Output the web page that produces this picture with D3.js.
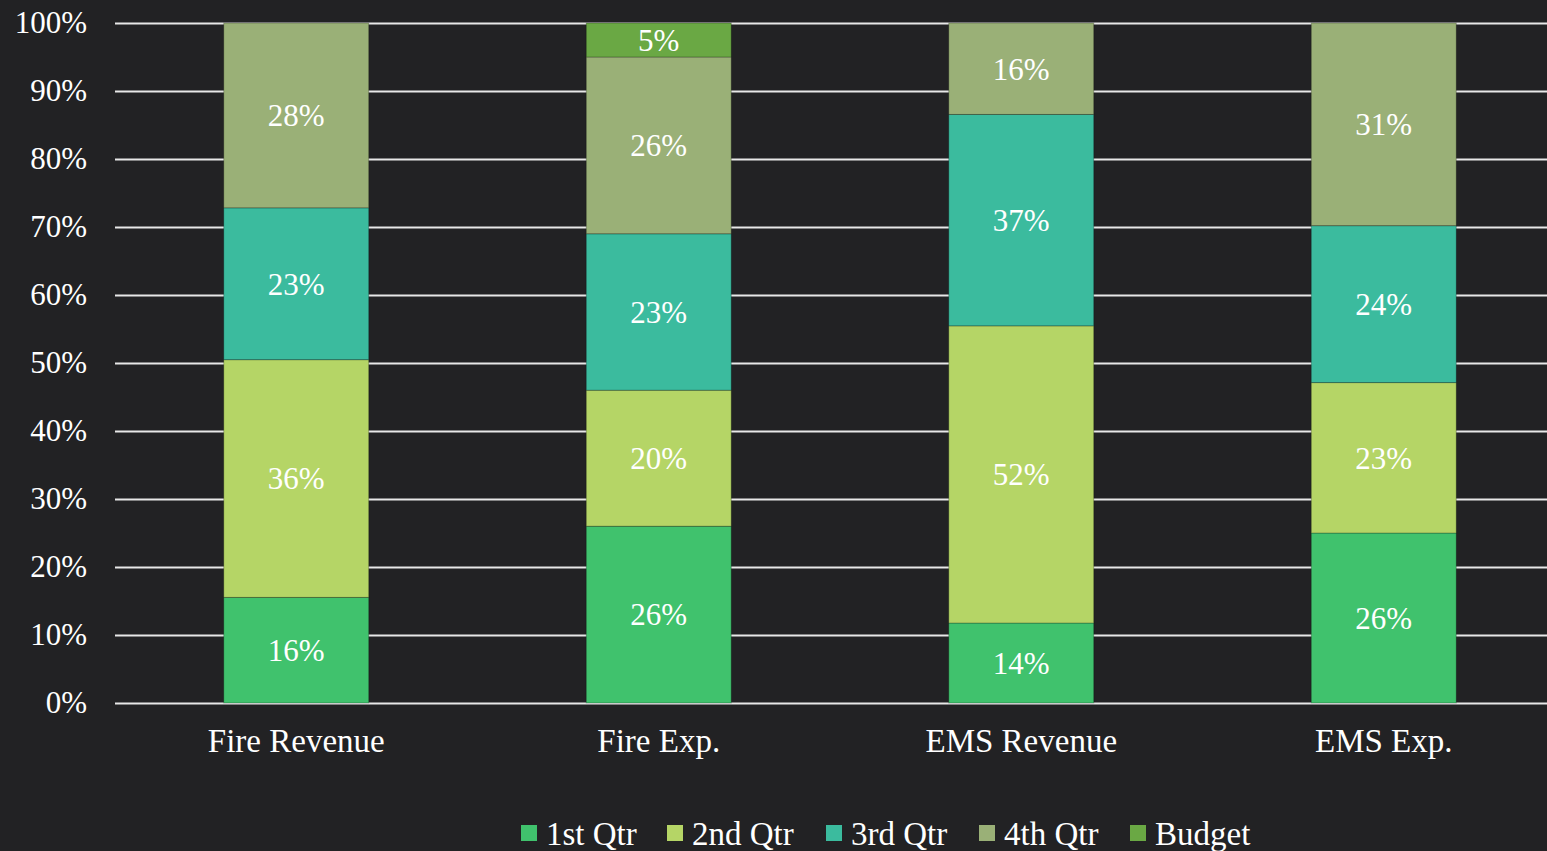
<!DOCTYPE html>
<html><head><meta charset="utf-8">
<script src="https://cdn.jsdelivr.net/npm/d3@7"></script>
<style>
html,body{margin:0;padding:0;background:#222224;overflow:hidden;}
svg text{font-family:"Liberation Serif","DejaVu Serif",serif !important;fill:#ffffff;}
</style></head>
<body>
<svg id="c" width="1547" height="851"></svg>
<script>
const categories = ["Fire Revenue","Fire Exp.","EMS Revenue","EMS Exp."];
const seriesNames = ["1st Qtr","2nd Qtr","3rd Qtr","4th Qtr","Budget"];
const q1 = [16,26,14,26];
const q2 = [36,20,52,23];
const q3 = [23,23,37,24];
const q4 = [28,26,16,31];
const budget = [0,5,0,0];
const colors = ["#40c26d","#b5d566","#3bbb9e","#9ab077","#6aa844"];
const yTicks = [0,0.1,0.2,0.3,0.4,0.5,0.6,0.7,0.8,0.9,1];

const svg = d3.select("#c");
const W=1547,H=851;
svg.append("rect").attr("width",W).attr("height",H).attr("fill","#222224");
const pLeft=115, pRight=1565, pTop=23, pBottom=703;
const x = d3.scaleBand().domain(categories).range([pLeft,pRight]).paddingInner(0.6).paddingOuter(0.3);
const y = d3.scaleLinear().domain([0,1]).range([pBottom,pTop]);

const seriesVals=[q1,q2,q3,q4,budget];
const rows = categories.map((c,i)=>{
  const r={cat:c};
  seriesNames.forEach((s,j)=>r[s]=seriesVals[j][i]);
  return r;
});
const stack = d3.stack().keys(seriesNames).offset(d3.stackOffsetExpand);
const stacked = stack(rows);

// gridlines
const yAxis = d3.axisLeft(y).tickValues(yTicks).tickFormat(d3.format(".0%")).tickSize(-(W-pLeft)).tickPadding(28);
const ga = svg.append("g").attr("transform",`translate(${pLeft},0)`).call(yAxis);
ga.attr("font-family",null);
ga.select(".domain").remove();
ga.selectAll(".tick line").attr("stroke","#e8e8e8").attr("stroke-width",2);
ga.selectAll(".tick text").attr("font-size",31).attr("fill","#fff").attr("x",-28).attr("dy","0.32em");

// bars
const gs = svg.append("g").selectAll("g").data(stacked).join("g").attr("fill",(d,i)=>colors[i]);
gs.selectAll("rect").data(d=>d.map(v=>({v,key:d.key}))).join("rect")
  .attr("x",d=>x(d.v.data.cat))
  .attr("width",x.bandwidth())
  .attr("y",d=>y(d.v[1]))
  .attr("height",d=>Math.max(0,y(d.v[0])-y(d.v[1])))
  .attr("stroke","rgba(0,0,0,0.25)").attr("stroke-width",1);

// labels
const lg = svg.append("g");
stacked.forEach((s,i)=>{
  s.forEach(v=>{
    const val = v.data[s.key];
    if(!val) return;
    lg.append("text")
      .attr("x",x(v.data.cat)+x.bandwidth()/2)
      .attr("y",(y(v[0])+y(v[1]))/2)
      .attr("dy","0.35em")
      .attr("text-anchor","middle")
      .attr("font-size",31)
      .text(val+"%");
  });
});

// x axis labels
const xAxis = d3.axisBottom(x).tickSize(0).tickPadding(26);
const gx = svg.append("g").attr("transform",`translate(0,${pBottom})`).call(xAxis);
gx.attr("font-family",null);
gx.select(".domain").remove();
gx.selectAll("text").attr("font-size",33).attr("fill","#fff");

// legend
const legX=[521,667,826,979,1130];
const leg = svg.append("g");
seriesNames.forEach((s,i)=>{
  leg.append("rect").attr("x",legX[i]).attr("y",825).attr("width",16).attr("height",16).attr("fill",colors[i]);
  leg.append("text").attr("x",legX[i]+25).attr("y",833).attr("dy","0.35em").attr("font-size",33).text(s);
});
</script>
</body></html>
